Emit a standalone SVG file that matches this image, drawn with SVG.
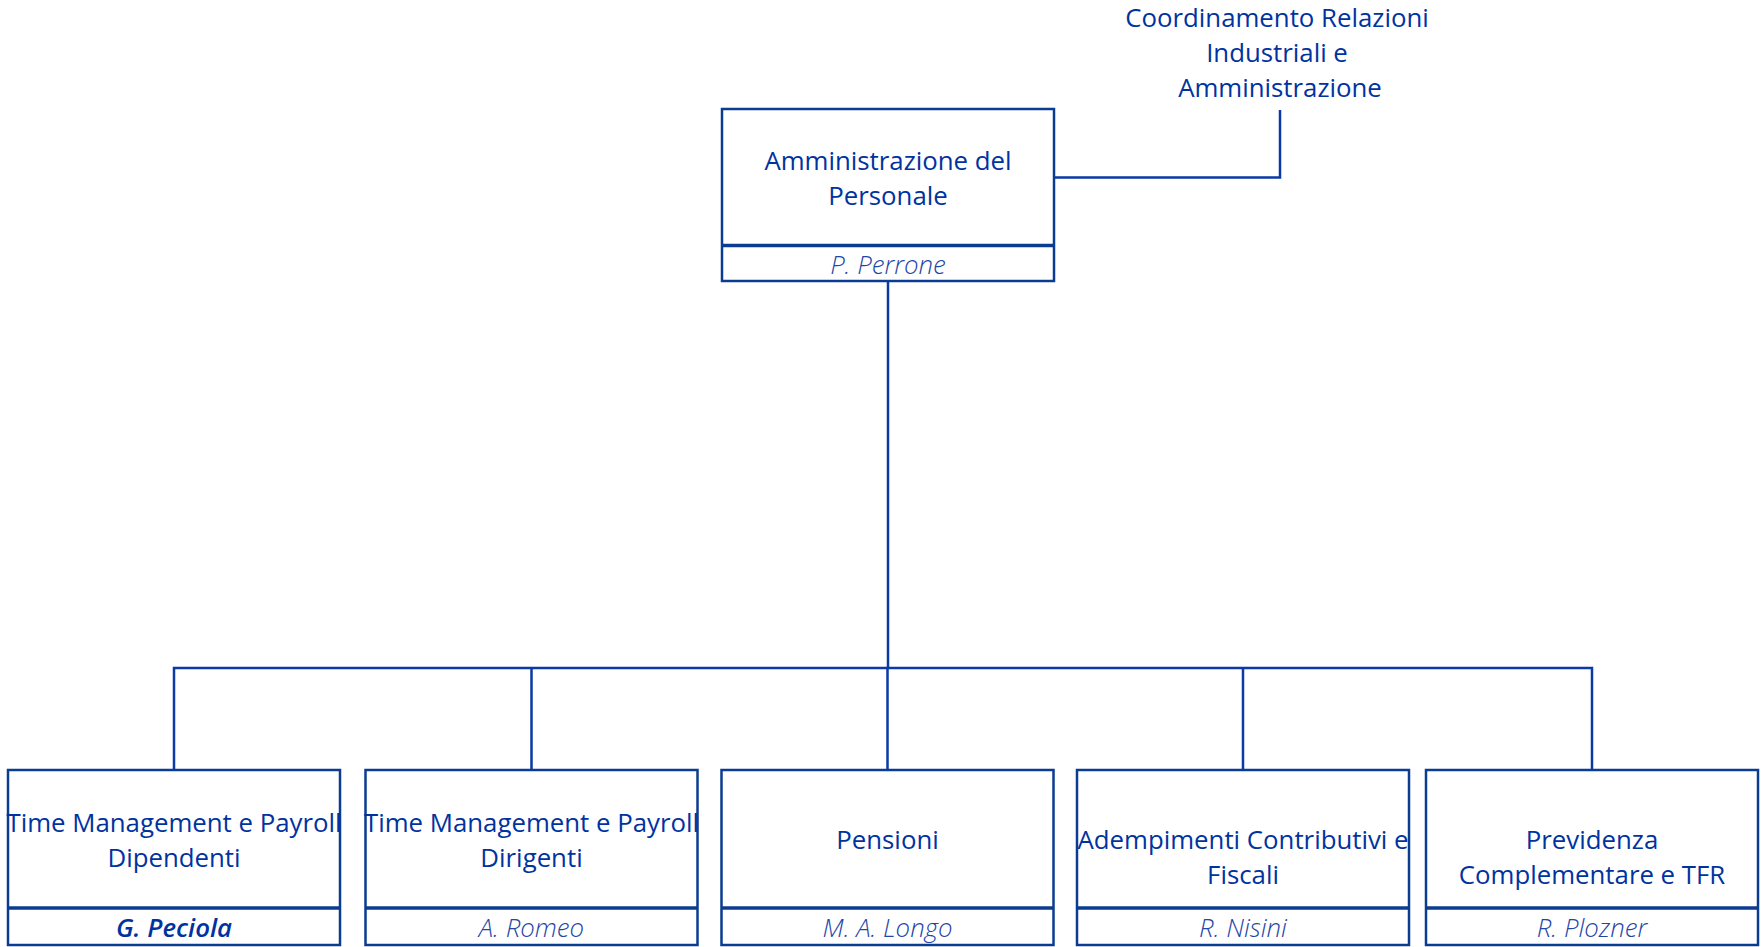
<svg xmlns="http://www.w3.org/2000/svg" width="1762" height="947" viewBox="0 0 1762 947">
<style>
.box{fill:#fff;stroke:#0a3d91;stroke-width:2.5}
.div{stroke:#0a3d91;stroke-width:3.5}
.con{fill:none;stroke:#0b39a6;stroke-width:2.5}
.t{font-family:"Open Sans","Noto Sans",sans-serif;font-size:25.8px;fill:#0033a0;text-anchor:middle}
.n{font-family:"Open Sans","Noto Sans",sans-serif;font-size:25.8px;font-style:italic;font-weight:300;fill:#1f46a8;text-anchor:middle}
.nb{font-weight:600;fill:#0033a0}
</style>
<rect width="1762" height="947" fill="#fff"/>
<g id="connectors">
<path class="con" d="M1054 177.5H1280V110"/>
<path class="con" d="M888 282V668"/>
<path class="con" d="M174 770V668H1592V770"/>
<path class="con" d="M531.5 668V770M887.5 668V770M1243 668V770"/>
</g>
<g id="coordinamento">
<text class="t" x="1277" y="27">Coordinamento Relazioni</text>
<text class="t" x="1277" y="62">Industriali e</text>
<text class="t" x="1280" y="97">Amministrazione</text>
</g>
<g id="amministrazione">
<rect class="box" x="722" y="109" width="332" height="172"/>
<line class="div" x1="722" y1="245.5" x2="1054" y2="245.5"/>
<text class="t" x="888" y="169.5">Amministrazione del</text>
<text class="t" x="888" y="204.8">Personale</text>
<text class="n" x="888" y="274">P. Perrone</text>
</g>
<g id="tm-dipendenti">
<rect class="box" x="8" y="770" width="332" height="175"/>
<line class="div" x1="8" y1="908" x2="340" y2="908"/>
<text class="t" x="174" y="832">Time Management e Payroll</text>
<text class="t" x="174" y="867.2">Dipendenti</text>
<text class="n nb" x="174" y="937">G. Peciola</text>
</g>
<g id="tm-dirigenti">
<rect class="box" x="365.5" y="770" width="332" height="175"/>
<line class="div" x1="365.5" y1="908" x2="697.5" y2="908"/>
<text class="t" x="531.5" y="832">Time Management e Payroll</text>
<text class="t" x="531.5" y="867.2">Dirigenti</text>
<text class="n" x="531.5" y="937">A. Romeo</text>
</g>
<g id="pensioni">
<rect class="box" x="721.5" y="770" width="332" height="175"/>
<line class="div" x1="721.5" y1="908" x2="1053.5" y2="908"/>
<text class="t" x="887.5" y="849">Pensioni</text>
<text class="n" x="887.5" y="937">M. A. Longo</text>
</g>
<g id="adempimenti">
<rect class="box" x="1077" y="770" width="332" height="175"/>
<line class="div" x1="1077" y1="908" x2="1409" y2="908"/>
<text class="t" x="1243" y="849">Adempimenti Contributivi e</text>
<text class="t" x="1243" y="884.2">Fiscali</text>
<text class="n" x="1243" y="937">R. Nisini</text>
</g>
<g id="previdenza">
<rect class="box" x="1426" y="770" width="332" height="175"/>
<line class="div" x1="1426" y1="908" x2="1758" y2="908"/>
<text class="t" x="1592" y="849">Previdenza</text>
<text class="t" x="1592" y="884.2">Complementare e TFR</text>
<text class="n" x="1592" y="937">R. Plozner</text>
</g>
</svg>
